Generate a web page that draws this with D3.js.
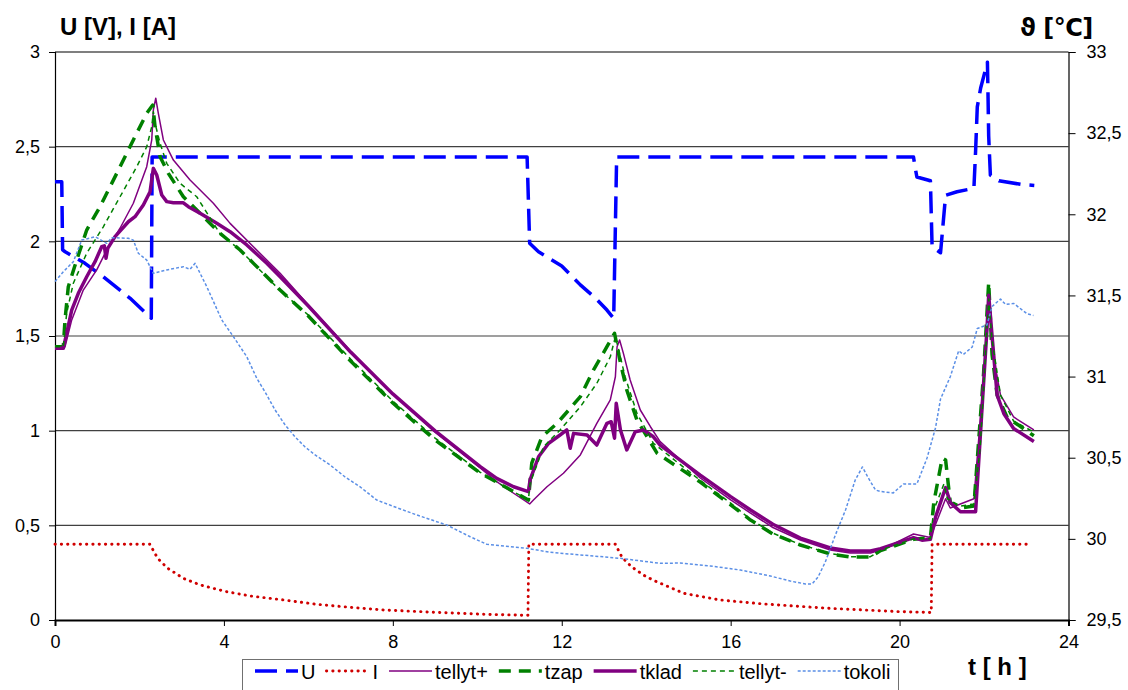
<!DOCTYPE html>
<html>
<head>
<meta charset="utf-8">
<script src="https://cdn.jsdelivr.net/npm/d3@7"></script>
<style>
  html, body { margin: 0; padding: 0; background: #fff; }
  svg { display: block; font-family: "Liberation Sans", Arial, sans-serif; }
</style>
</head>
<body>
<svg id="chart" width="1128" height="690"></svg>
<script>
// Time axis [h] and tick labels
const timeTicks = [0, 4, 8, 12, 16, 20, 24];
const leftTicks = [0, 0.5, 1, 1.5, 2, 2.5, 3];
const rightTicks = [29.5, 30, 30.5, 31, 31.5, 32, 32.5, 33];

// U [V] — voltage, pairs of [t h, U]
const U = [[0,2.315],[0.16,2.315],[0.18,1.955],[0.24,1.945],[0.71,1.884],[1.14,1.813],[1.78,1.699],[2.28,1.594],
  [2.30,2.445],[11.18,2.445],[11.24,1.99],[11.45,1.945],[12.0,1.87],[12.44,1.77],[12.8,1.70],[13.07,1.637],
  [13.23,1.593],[13.30,2.445],[20.33,2.445],[20.36,2.40],[20.41,2.34],[20.73,2.32],[20.77,1.97],[20.97,1.94],
  [21.09,2.243],[21.36,2.262],[21.76,2.28],[21.80,2.477],[21.84,2.71],[21.92,2.81],[22.08,2.946],[22.09,2.83],
  [22.11,2.555],[22.15,2.35],[22.35,2.32],[22.9,2.30],[23.19,2.295]];

// I [A] — current
const I = [[0,0.40],[2.25,0.40],[2.37,0.349],[2.47,0.317],[2.67,0.273],[3.04,0.22],[3.44,0.185],[4.03,0.151],
  [4.62,0.127],[5.41,0.106],[6.2,0.083],[6.99,0.067],[7.78,0.053],[8.96,0.041],[10.15,0.030],[11.1,0.025],
  [11.2,0.025],[11.22,0.40],[13.27,0.40],[13.43,0.33],[13.66,0.28],[13.93,0.238],[14.17,0.21],[14.89,0.141],
  [15.74,0.106],[16.76,0.085],[18.3,0.062],[20.0,0.044],[20.68,0.040],[20.75,0.040],[20.77,0.40],[23.1,0.40]];

// Temperatures [°C]
const tellytPlus = [[0,31.174],[0.237,31.184],[0.396,31.349],[0.670,31.533],[0.988,31.657],[1.225,31.780],
  [1.540,31.914],[1.855,32.068],[2.172,32.293],[2.291,32.458],[2.329,32.643],[2.386,32.715],[2.447,32.622],
  [2.566,32.458],[2.803,32.334],[3.198,32.211],[3.750,32.068],[4.146,31.944],[4.698,31.800],[5.331,31.636],
  [6.0,31.441],[7.0,31.158],[8.0,30.893],[9.0,30.658],[10.07,30.437],[10.46,30.352],[10.86,30.281],[11.24,30.215],
  [11.33,30.239],[11.65,30.321],[12.04,30.404],[12.44,30.517],[12.83,30.712],[13.15,30.856],[13.27,30.999],
  [13.31,31.184],[13.37,31.225],[13.46,31.143],[13.62,30.979],[13.86,30.794],[14.10,30.691],[14.33,30.599],
  [15.28,30.375],[16.0,30.240],[16.47,30.159],[17.0,30.070],[17.65,29.993],[18.36,29.931],[18.83,29.913],
  [19.31,29.913],[19.55,29.931],[20.33,30.030],[20.73,30.008],[21.09,30.247],[21.20,30.190],[21.44,30.215],
  [21.76,30.247],[22.07,31.250],[22.11,31.478],[22.23,31.114],[22.39,30.886],[22.70,30.751],[23.18,30.671]];

const tzap = [[0,31.184],[0.197,31.184],[0.237,31.349],[0.315,31.554],[0.514,31.718],[0.751,31.903],[1.066,32.047],
  [1.462,32.252],[1.855,32.458],[2.172,32.622],[2.315,32.673],[2.369,32.540],[2.488,32.355],[2.684,32.252],
  [3.040,32.108],[3.435,32.006],[3.909,31.883],[4.383,31.780],[4.857,31.657],[5.331,31.533],[6.0,31.373],
  [7.0,31.096],[8.0,30.837],[9.0,30.609],[10.07,30.406],[10.86,30.291],[11.21,30.239],[11.29,30.467],
  [11.53,30.629],[11.89,30.712],[12.20,30.804],[12.44,30.876],[12.75,31.040],[13.07,31.184],[13.25,31.267],
  [13.39,31.084],[13.54,30.917],[13.78,30.732],[14.02,30.629],[14.26,30.527],[15.28,30.350],[16.0,30.210],
  [16.47,30.116],[17.0,30.030],[17.65,29.962],[18.36,29.907],[18.83,29.888],[19.31,29.888],[19.55,29.928],
  [20.33,29.997],[20.73,30.008],[20.81,30.224],[21.01,30.498],[21.09,30.486],[21.20,30.224],[21.44,30.190],
  [21.76,30.202],[21.99,31.022],[22.11,31.581],[22.19,31.136],[22.31,30.886],[22.55,30.748],[23.18,30.635]];

const tklad = [[0,31.174],[0.197,31.174],[0.277,31.267],[0.396,31.410],[0.552,31.513],[0.751,31.615],[0.948,31.708],
  [1.106,31.800],[1.168,31.806],[1.208,31.729],[1.249,31.790],[1.421,31.862],[1.737,31.954],[1.895,31.985],
  [2.092,32.057],[2.251,32.139],[2.329,32.283],[2.409,32.242],[2.528,32.119],[2.646,32.078],[2.803,32.071],
  [3.040,32.071],[3.158,32.047],[3.435,32.006],[3.831,31.944],[4.146,31.893],[4.542,31.811],[5.015,31.698],
  [5.331,31.615],[6.0,31.435],[7.0,31.151],[8.0,30.893],[9.0,30.665],[10.07,30.445],[10.46,30.373],[10.86,30.321],
  [11.21,30.291],[11.25,30.363],[11.45,30.506],[11.69,30.589],[11.96,30.640],[12.12,30.671],[12.20,30.558],
  [12.28,30.650],[12.60,30.640],[12.83,30.578],[13.07,30.712],[13.17,30.722],[13.25,30.620],[13.29,30.835],
  [13.39,30.671],[13.54,30.548],[13.74,30.660],[13.94,30.671],[14.17,30.629],[14.33,30.578],[15.28,30.393],
  [16.0,30.260],[16.47,30.178],[17.0,30.090],[17.65,30.005],[18.36,29.944],[18.83,29.925],[19.31,29.925],
  [19.55,29.939],[20.33,30.008],[20.53,29.992],[20.73,29.997],[20.85,30.133],[21.09,30.316],[21.20,30.224],
  [21.44,30.167],[21.80,30.167],[22.07,31.296],[22.11,31.501],[22.19,31.250],[22.31,30.886],[22.47,30.771],
  [22.70,30.680],[23.18,30.600]];

const tellytMinus = [[0,31.184],[0.197,31.184],[0.277,31.392],[0.434,31.575],[0.751,31.760],[1.144,31.923],
  [1.540,32.108],[1.936,32.293],[2.172,32.416],[2.291,32.540],[2.329,32.632],[2.369,32.561],[2.488,32.437],
  [2.646,32.314],[2.961,32.191],[3.357,32.108],[3.909,31.880],[4.383,31.780],[5.331,31.530],[6.0,31.379],
  [7.0,31.108],[8.0,30.849],[9.0,30.621],[10.07,30.410],[10.86,30.290],[11.21,30.240],[11.25,30.342],
  [11.57,30.568],[11.96,30.671],[12.44,30.814],[12.83,30.958],[13.15,31.122],[13.27,31.246],[13.35,31.164],
  [13.50,30.999],[13.78,30.774],[14.17,30.589],[15.28,30.360],[16.0,30.220],[16.47,30.120],[17.0,30.035],
  [17.65,29.965],[18.36,29.910],[18.83,29.890],[19.31,29.890],[19.55,29.930],[20.33,30.000],[20.73,30.000],
  [20.81,30.178],[21.05,30.338],[21.13,30.247],[21.44,30.202],[21.76,30.215],[21.91,30.566],[22.11,31.478],
  [22.19,31.227],[22.39,30.886],[22.70,30.726],[23.18,30.658]];

const tokoli = [[0,31.585],[0.197,31.646],[0.434,31.708],[0.633,31.841],[0.948,31.862],[1.225,31.821],
  [1.343,31.856],[1.737,31.852],[1.855,31.841],[1.973,31.760],[2.172,31.718],[2.329,31.636],[2.646,31.657],
  [3.040,31.677],[3.198,31.661],[3.317,31.698],[3.594,31.554],[3.949,31.349],[4.224,31.246],[4.542,31.122],
  [4.779,30.989],[4.975,30.905],[5.212,30.794],[5.449,30.702],[5.686,30.628],[5.923,30.566],[6.160,30.517],
  [6.515,30.455],[6.871,30.381],[7.226,30.320],[7.621,30.239],[8.055,30.196],[8.569,30.147],[9.280,30.085],
  [9.832,30.013],[10.23,29.966],[11.18,29.942],[11.73,29.917],[12.44,29.901],[13.39,29.880],[14.33,29.849],
  [14.80,29.851],[15.52,29.833],[16.23,29.808],[16.94,29.771],[17.41,29.740],[17.77,29.722],[17.93,29.722],
  [18.07,29.765],[18.24,29.857],[18.48,30.024],[18.72,30.178],[18.95,30.363],[19.12,30.443],[19.26,30.375],
  [19.43,30.301],[19.55,30.292],[19.85,30.283],[20.09,30.338],[20.41,30.338],[20.65,30.498],[20.85,30.683],
  [20.97,30.862],[21.20,30.999],[21.40,31.159],[21.51,31.136],[21.72,31.182],[21.84,31.296],[22.07,31.318],
  [22.19,31.432],[22.39,31.478],[22.51,31.444],[22.70,31.451],[23.02,31.387],[23.17,31.376]];

// ---- drawing ----
const svg = d3.select("#chart");
svg.append("rect").attr("width", 1128).attr("height", 690).attr("fill", "#fff");

const plot = { left: 55, right: 1068.5, top: 52, bottom: 620 };
const x = d3.scaleLinear().domain([0, 24]).range([plot.left, plot.right]);
const yL = d3.scaleLinear().domain([0, 3]).range([plot.bottom, plot.top]);
const yR = d3.scaleLinear().domain([29.5, 33]).range([plot.bottom, plot.top]);
const fmt = d => String(d).replace(".", ",");

// horizontal gridlines
svg.append("g").selectAll("line").data(leftTicks.filter(d => d > 0)).join("line")
  .attr("x1", plot.left).attr("x2", plot.right)
  .attr("y1", d => yL(d)).attr("y2", d => yL(d))
  .attr("stroke", d => d === 3 ? "#000" : "#404040").attr("stroke-width", 1.1);

// axes
const axisFont = g => g.selectAll("text").attr("font-size", 18).attr("fill", "#000")
  .attr("font-family", "Liberation Sans, Arial, sans-serif");

const gL = svg.append("g").attr("transform", `translate(${plot.left},0)`)
  .call(d3.axisLeft(yL).tickValues(leftTicks).tickFormat(fmt).tickSize(6).tickPadding(9));
gL.call(axisFont);
const gR = svg.append("g").attr("transform", `translate(${plot.right},0)`)
  .call(d3.axisRight(yR).tickValues(rightTicks).tickFormat(fmt).tickSize(7).tickPadding(11));
gR.call(axisFont);
const gB = svg.append("g").attr("transform", `translate(0,${plot.bottom})`)
  .call(d3.axisBottom(x).tickValues(timeTicks).tickFormat(d3.format("d")).tickSize(6).tickPadding(9));
gB.call(axisFont);
[gL, gR, gB].forEach(g => {
  g.select(".domain").attr("stroke", "#000").attr("stroke-width", 1.2);
  g.selectAll(".tick line").attr("stroke", "#000");
});
gB.select(".domain").attr("stroke-width", 2);

// series
const lineL = d3.line().x(d => x(d[0])).y(d => yL(d[1]));
const lineR = d3.line().x(d => x(d[0])).y(d => yR(d[1]));

const series = [
  { name: "U", data: U, line: lineL, color: "#0000FF", width: 3.5, dash: "22,9", cap: "butt" },
  { name: "I", data: I, line: lineL, color: "#D00000", width: 2.9, dash: "0.3,6", cap: "round" },
  { name: "tellyt+", data: tellytPlus, line: lineR, color: "#800080", width: 1.5, dash: null, cap: "butt" },
  { name: "tzap", data: tzap, line: lineR, color: "#008000", width: 3.5, dash: "12,8", cap: "butt" },
  { name: "tklad", data: tklad, line: lineR, color: "#800080", width: 3.5, dash: null, cap: "butt" },
  { name: "tellyt-", data: tellytMinus, line: lineR, color: "#008000", width: 1.5, dash: "5,4", cap: "butt" },
  { name: "tokoli", data: tokoli, line: lineR, color: "#5B8FE6", width: 1.5, dash: "3,2", cap: "butt" }
];

svg.append("g").selectAll("path").data(series).join("path")
  .attr("d", s => s.line(s.data))
  .attr("fill", "none")
  .attr("stroke", s => s.color)
  .attr("stroke-width", s => s.width)
  .attr("stroke-dasharray", s => s.dash)
  .attr("stroke-linecap", s => s.cap)
  .attr("stroke-linejoin", "round");

// axis titles
svg.append("text").attr("x", 60).attr("y", 35).attr("font-size", 24).attr("font-weight", "bold")
  .text("U [V], I [A]");
svg.append("text").attr("x", 1020).attr("y", 36).attr("font-size", 24).attr("font-weight", "bold")
  .attr("font-family", "DejaVu Sans, Liberation Sans, sans-serif").attr("letter-spacing", -0.5)
  .text("ϑ [°C]");
svg.append("text").attr("x", 968).attr("y", 675).attr("font-size", 24).attr("font-weight", "bold")
  .text("t [ h ]");

// legend
const legend = svg.append("g");
legend.append("rect").attr("x", 242.5).attr("y", 659.5).attr("width", 656).attr("height", 40)
  .attr("fill", "#fff").attr("stroke", "#707070").attr("stroke-width", 1);
let lx = 255;
const ly = 671;
series.forEach(s => {
  legend.append("line").attr("x1", lx).attr("x2", lx + 43).attr("y1", ly).attr("y2", ly)
    .attr("stroke", s.color).attr("stroke-width", s.width)
    .attr("stroke-dasharray", s.dash).attr("stroke-linecap", s.cap);
  const t = legend.append("text").attr("x", lx + 46).attr("y", 679).attr("font-size", 20).text(s.name);
  lx += 46 + t.node().getComputedTextLength() + 11;
});
</script>
</body>
</html>
